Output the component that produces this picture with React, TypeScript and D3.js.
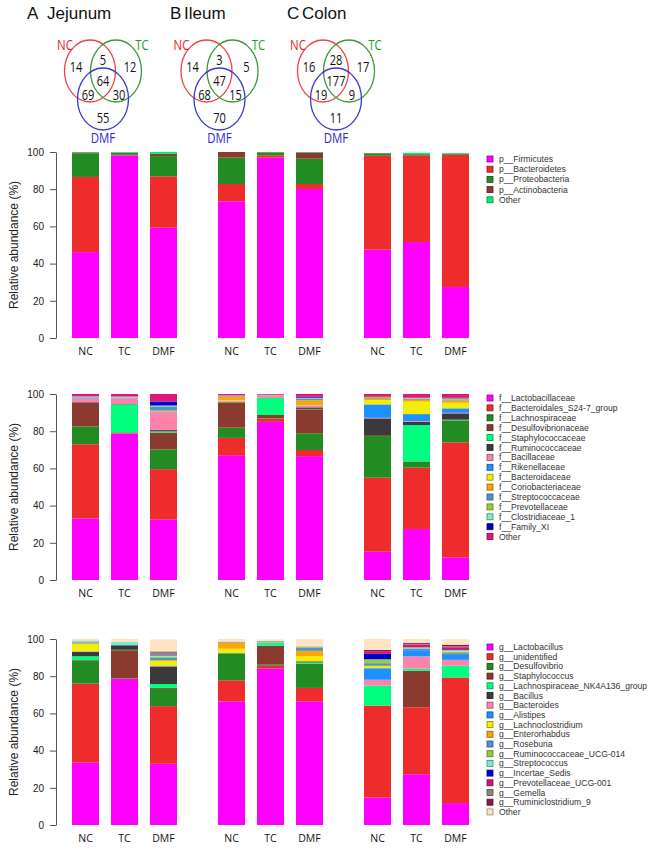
import { useRef, useEffect } from "react";
import * as d3 from "d3";

const W = 650;
const H = 849;

const sites = ["Jejunum", "Ileum", "Colon"];
const siteLetters = ["A", "B", "C"];
const groups = ["NC", "TC", "DMF"];

// venn counts: NC only, NC&TC, TC only, all three, NC&DMF, TC&DMF, DMF only
const vennJejunum = [14, 5, 12, 64, 69, 30, 55];
const vennIleum = [14, 3, 5, 47, 68, 15, 70];
const vennColon = [16, 28, 17, 177, 19, 9, 11];

// phylum level
const phylumNames = ["Firmicutes", "Bacteroidetes", "Proteobacteria", "Actinobacteria", "Other"];
const phylumColors = ["#ff00ff", "#ee2c2c", "#228b22", "#8b3a2f", "#00ee76"];
const phylumJejunum = [
  [46.2, 40.4, 12.7, 0.5, 0.2],
  [98.2, 0.3, 1.0, 0.2, 0.3],
  [59.3, 27.6, 10.9, 1.2, 1.0],
];
const phylumIleum = [
  [73.5, 9.3, 14.2, 3.0, 0],
  [97.0, 1.2, 1.6, 0.1, 0.1],
  [80.1, 2.7, 13.6, 3.4, 0.2],
];
const phylumColon = [
  [47.5, 50.5, 1.1, 0.3, 0.1],
  [51.6, 46.4, 0.6, 0.4, 0.6],
  [27.4, 71.1, 0.5, 0.2, 0.3],
];

// family level
const familyNames = [
  "Lactobacillaceae", "Bacteroidales_S24-7_group", "Lachnospiraceae", "Desulfovibrionaceae",
  "Staphylococcaceae", "Ruminococcaceae", "Bacillaceae", "Rikenellaceae", "Bacteroidaceae",
  "Coriobacteriaceae", "Streptococcaceae", "Prevotellaceae", "Clostridiaceae_1", "Family_XI", "Other",
];
const familyColors = [
  "#ff00ff", "#ee2c2c", "#228b22", "#8b3a2f", "#00ff7f", "#3a3a3a", "#ff82ab", "#1e90ff",
  "#f5ee00", "#ffa500", "#4f94cd", "#9acd32", "#76eec6", "#0000cd", "#e3157a",
];
const familyJejunum = [
  [33.1, 39.9, 9.6, 12.7, 0, 0.3, 2.0, 0.2, 0, 0, 0.4, 0, 0.5, 0, 1.3],
  [78.7, 0.2, 0.3, 0.2, 15.0, 0.2, 3.0, 0, 0, 0, 0.5, 0, 0.5, 0, 1.4],
  [32.6, 27.0, 10.6, 9.1, 0.6, 0.7, 9.6, 0.3, 0, 0.6, 2.2, 0.3, 0.2, 2.2, 4.0],
];
const familyIleum = [
  [67.1, 9.3, 5.5, 13.4, 0.2, 0.3, 0.5, 0, 0.3, 2.0, 0.3, 0, 0.3, 0, 0.8],
  [85.0, 1.8, 0.3, 1.6, 9.2, 0.2, 0.8, 0, 0, 0.3, 0.2, 0, 0.2, 0, 0.4],
  [66.6, 3.3, 9.0, 12.9, 0.2, 0.8, 0.9, 0.2, 0.2, 2.5, 1.0, 0.2, 0.2, 0.5, 1.5],
];
const familyColon = [
  [15.2, 39.8, 22.4, 0.5, 0, 9.0, 0.3, 7.2, 2.4, 0.6, 0.4, 0.7, 0, 0, 1.5],
  [27.4, 33.0, 3.2, 0.2, 19.5, 1.8, 0.3, 3.8, 6.7, 1.0, 0.6, 0.5, 0, 0, 2.0],
  [12.2, 61.8, 11.7, 0.2, 0.3, 3.4, 0.3, 2.4, 3.0, 1.2, 0.5, 0.7, 0, 0.3, 2.0],
];

// genus level
const genusNames = [
  "Lactobacillus", "unidentified", "Desulfovibrio", "Staphylococcus", "Lachnospiraceae_NK4A136_group",
  "Bacillus", "Bacteroides", "Alistipes", "Lachnoclostridium", "Enterorhabdus", "Roseburia",
  "Ruminococcaceae_UCG-014", "Streptococcus", "Incertae_Sedis", "Prevotellaceae_UCG-001",
  "Gemella", "Ruminiclostridium_9", "Other",
];
const genusColors = [
  "#ff00ff", "#ee2c2c", "#228b22", "#8b3a2f", "#00ff7f", "#3a3a3a", "#ff82ab", "#1e90ff",
  "#f5ee00", "#ffa500", "#4f94cd", "#9acd32", "#76eec6", "#0000cd", "#d8127d", "#8b8970",
  "#8b1a4a", "#ffe4c4",
];
const genusJejunum = [
  [33.5, 42.5, 12.4, 0.3, 2.0, 2.3, 0.2, 0.2, 3.9, 0.3, 0.6, 0.2, 0.5, 0, 0.2, 0, 0, 1.0],
  [78.5, 0.3, 0.2, 15.0, 0.2, 2.4, 0, 0, 0, 0, 0.2, 0, 1.6, 0, 0, 0, 0, 1.6],
  [32.9, 31.0, 9.3, 0.5, 2.1, 9.4, 0.2, 0.3, 2.5, 0.4, 1.2, 0.6, 0.8, 0.3, 0.3, 1.2, 0.3, 6.5],
];
const genusIleum = [
  [66.5, 11.3, 14.3, 0, 0.2, 0.2, 0, 0, 2.3, 3.3, 0.3, 0, 0, 0, 0, 0.2, 0, 1.4],
  [84.1, 1.5, 0.6, 10.2, 1.4, 0, 0, 0, 0, 0, 0.2, 0, 0.2, 0, 0, 0.6, 0, 1.0],
  [66.5, 7.2, 13.1, 0, 0.6, 0.6, 0, 0, 2.7, 2.9, 1.6, 0.3, 0, 0, 0, 0.5, 0, 3.9],
];
const genusColon = [
  [14.8, 49.4, 0, 0, 10.7, 0, 3.2, 6.2, 1.3, 0, 1.4, 2.1, 0, 2.9, 1.2, 0, 0.9, 5.9],
  [27.3, 36.0, 0, 19.6, 1.2, 0, 6.5, 3.4, 0, 0, 0.8, 0.3, 0.4, 0, 1.6, 0.3, 0.6, 2.0],
  [11.8, 67.5, 0, 0, 6.3, 0, 3.2, 2.6, 0, 0, 1.0, 0.8, 0.8, 0, 1.6, 0.5, 0.8, 3.0],
];

const yTicks = [0, 20, 40, 60, 80, 100];

const FONT = "'Liberation Sans', Arial, sans-serif";
const LABEL_FONT = "'Open Sans', 'Liberation Sans', sans-serif";

export default function App() {
  const ref = useRef<SVGSVGElement | null>(null);

  useEffect(() => {
    const svg = d3.select(ref.current);
    svg.selectAll("*").remove();
    svg.append("rect").attr("width", W).attr("height", H).attr("fill", "#fff");

    // ---- titles + venns ----
    const venns = [vennJejunum, vennIleum, vennColon];
    const vx = d3.scalePoint<string>().domain(sites).range([103, 336]);
    const letterX = [27, 170, 287];
    const wordX = [47, 184, 302];

    sites.forEach((s, i) => {
      svg.append("text").attr("x", letterX[i]).attr("y", 19)
        .style("font-family", FONT).style("font-size", "17px").attr("fill", "#111")
        .text(siteLetters[i]);
      svg.append("text").attr("x", wordX[i]).attr("y", 19)
        .style("font-family", FONT).style("font-size", "17px").attr("fill", "#111")
        .text(s);

      const cx = vx(s)!;
      const g = svg.append("g");
      const circles = [
        { dx: -13, cy: 71, c: "#ee4444" },
        { dx: 13, cy: 71, c: "#3a9a3a" },
        { dx: 0, cy: 99, c: "#3a3ad0" },
      ];
      circles.forEach((e) => {
        g.append("ellipse").attr("cx", cx + e.dx).attr("cy", e.cy)
          .attr("rx", 25.5).attr("ry", 31)
          .attr("fill", "none").attr("stroke", e.c).attr("stroke-width", 1.3);
      });

      const spots = [
        [-27, 67], [0, 60], [27, 67], [0, 81], [-15, 95], [16, 95], [0, 118],
      ];
      venns[i].forEach((v, k) => {
        g.append("text")
          .attr("transform", `translate(${cx + spots[k][0]},${spots[k][1] + 5}) scale(0.85,1.12)`)
          .attr("text-anchor", "middle")
          .style("font-family", LABEL_FONT).style("font-size", "13px").attr("fill", "#111")
          .text(v);
      });

      const labs = [
        { t: "NC", x: cx - 38, y: 50, c: "#e82020" },
        { t: "TC", x: cx + 39, y: 50, c: "#1e9e1e" },
        { t: "DMF", x: cx, y: 143, c: "#2a2ad0" },
      ];
      labs.forEach((l) => {
        g.append("text")
          .attr("transform", `translate(${l.x},${l.y}) scale(0.88,1.12)`)
          .attr("text-anchor", "middle")
          .style("font-family", LABEL_FONT).style("font-size", "13px").attr("fill", l.c)
          .text(l.t);
      });
    });

    // ---- stacked bar panels ----
    const outer = d3.scaleBand<string>().domain(sites).range([66, 504]);
    const inner = d3.scaleBand<string>().domain(groups).range([0, 117])
      .paddingInner(12 / 39).paddingOuter(6 / 39);

    const panels = [
      { names: phylumNames, colors: phylumColors, prefix: "p__", data: [phylumJejunum, phylumIleum, phylumColon], top: 152, legTop: 159, legStep: 10.2 },
      { names: familyNames, colors: familyColors, prefix: "f__", data: [familyJejunum, familyIleum, familyColon], top: 394, legTop: 398, legStep: 9.9 },
      { names: genusNames, colors: genusColors, prefix: "g__", data: [genusJejunum, genusIleum, genusColon], top: 639, legTop: 647, legStep: 9.7 },
    ];

    panels.forEach((p) => {
      const y = d3.scaleLinear().domain([0, 100]).range([p.top + 186, p.top]);
      const color = d3.scaleOrdinal<string, string>().domain(p.names).range(p.colors);

      const rows: any[] = [];
      sites.forEach((s, si) => {
        groups.forEach((gname, gi) => {
          const r: any = { site: s, group: gname };
          p.names.forEach((n, k) => (r[n] = p.data[si][gi][k]));
          rows.push(r);
        });
      });
      const stacked = d3.stack<any>().keys(p.names)(rows);

      const g = svg.append("g");
      g.selectAll("g.layer").data(stacked).join("g")
        .attr("fill", (d) => color(d.key))
        .selectAll("rect")
        .data((d) => d.filter((v) => v[1] - v[0] > 0))
        .join("rect")
        .attr("x", (d) => outer(d.data.site)! + inner(d.data.group)!)
        .attr("width", inner.bandwidth())
        .attr("y", (d) => y(d[1]))
        .attr("height", (d) => y(d[0]) - y(d[1]));

      // axis
      const ax = g.append("g").attr("transform", "translate(56,0)")
        .call(d3.axisLeft(y).tickValues(yTicks).tickSize(6).tickSizeOuter(0).tickPadding(6));
      ax.select(".domain").attr("stroke", "#555");
      ax.selectAll(".tick line").attr("stroke", "#555");
      ax.selectAll(".tick text").attr("fill", "#222")
        .style("font-family", FONT).style("font-size", "10px");

      g.append("text")
        .attr("transform", `translate(18,${p.top + 93}) rotate(-90)`)
        .attr("text-anchor", "middle")
        .style("font-family", FONT).style("font-size", "12px").attr("fill", "#222")
        .text("Relative abundance (%)");

      // x labels
      sites.forEach((s) => {
        groups.forEach((gname) => {
          g.append("text")
            .attr("x", outer(s)! + inner(gname)! + inner.bandwidth() / 2)
            .attr("y", p.top + 186 + 17)
            .attr("text-anchor", "middle")
            .style("font-family", LABEL_FONT).style("font-size", "10.5px").attr("fill", "#111")
            .text(gname);
        });
      });

      // legend
      const leg = g.append("g");
      p.names.forEach((n, k) => {
        const yy = p.legTop + k * p.legStep;
        leg.append("rect").attr("x", 487).attr("y", yy - 3).attr("width", 6).attr("height", 6)
          .attr("fill", color(n)).attr("stroke", d3.color(color(n))!.darker(1.5).formatHex())
          .attr("stroke-width", 0.8);
        leg.append("text").attr("x", 499).attr("y", yy + 3)
          .style("font-family", FONT).style("font-size", "8.6px").attr("fill", "#333")
          .text(n === "Other" ? "Other" : p.prefix + n);
      });
    });
  }, []);

  return (
    <svg ref={ref} width={W} height={H} style={{ position: "absolute", left: 0, top: 0 }}></svg>
  );
}
